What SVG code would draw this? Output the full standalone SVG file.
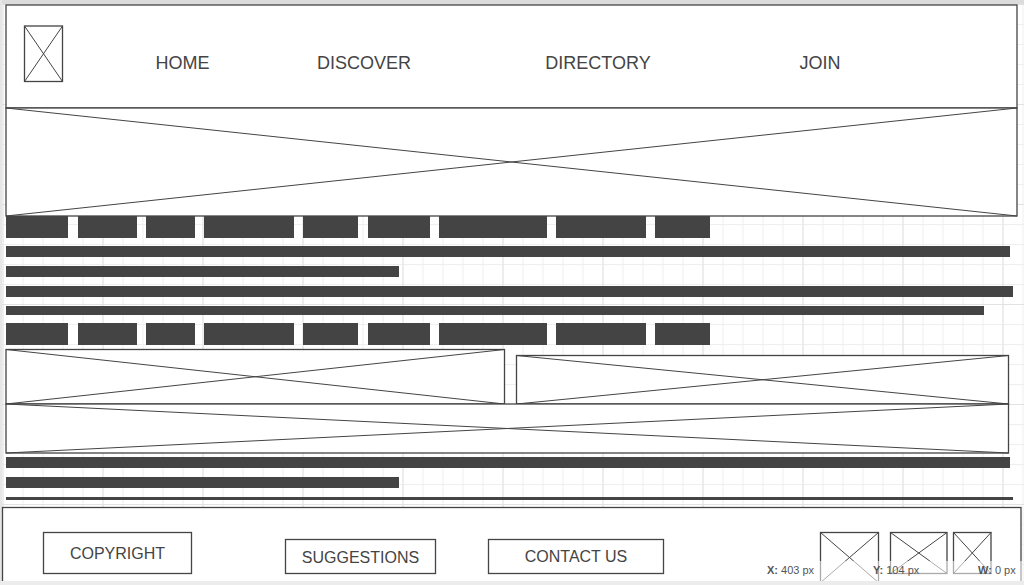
<svg xmlns="http://www.w3.org/2000/svg" width="1024" height="585" viewBox="0 0 1024 585">
<style>
.box{fill:#fff;stroke:#444;stroke-width:1.3}
.xl{stroke:#444;stroke-width:1;fill:none}
.bar{fill:#444}
.nav{font-family:"Liberation Sans",Arial,sans-serif;font-size:18px;fill:#444;text-anchor:middle}
.ft{font-family:"Liberation Sans",Arial,sans-serif;font-size:16px;fill:#444;text-anchor:middle}
.tip{font-family:"Liberation Sans",Arial,sans-serif;font-size:11px;fill:#555}
</style>
<defs>
<pattern id="minor" x="2.5" y="4" width="20" height="20" patternUnits="userSpaceOnUse">
<path d="M0 0.5H20M0.5 0V20" stroke="#efefef" stroke-width="1" fill="none"/>
</pattern>
<pattern id="major" x="2.5" y="4" width="100" height="100" patternUnits="userSpaceOnUse">
<path d="M0 0.5H100M0.5 0V100" stroke="#e2e2e2" stroke-width="1" fill="none"/>
</pattern>
</defs>
<rect x="0" y="0" width="1024" height="585" fill="#fff"/>
<rect x="2" y="4" width="1022" height="577" fill="url(#minor)"/>
<rect x="2" y="4" width="1022" height="577" fill="url(#major)"/>
<rect x="0" y="0" width="1024" height="4" fill="#dcdcdc"/>
<rect x="0" y="0" width="2" height="585" fill="#e6e6e6"/>

<g id="header">
<rect class="box" x="6" y="5" width="1011" height="103"/>
</g>
<g id="logo">
<rect class="box" x="24.5" y="26" width="38" height="55.5"/>
<path class="xl" d="M24.5 26L62.5 81.5M62.5 26L24.5 81.5"/>
</g>
<g id="nav-home"><text class="nav" x="182.5" y="69">HOME</text></g>
<g id="nav-discover"><text class="nav" x="364" y="69">DISCOVER</text></g>
<g id="nav-directory"><text class="nav" x="598" y="69">DIRECTORY</text></g>
<g id="nav-join"><text class="nav" x="820" y="69">JOIN</text></g>

<g id="hero">
<rect class="box" x="6" y="108" width="1011" height="108"/>
<path class="xl" d="M6 108L1017 216M6 216L1017 108"/>
</g>

<g id="tabs-1">
<rect class="bar" x="6" y="216" width="62" height="22"/>
<rect class="bar" x="78" y="216" width="59" height="22"/>
<rect class="bar" x="146" y="216" width="49" height="22"/>
<rect class="bar" x="204" y="216" width="90" height="22"/>
<rect class="bar" x="303" y="216" width="55" height="22"/>
<rect class="bar" x="368" y="216" width="62" height="22"/>
<rect class="bar" x="439" y="216" width="108" height="22"/>
<rect class="bar" x="556" y="216" width="90" height="22"/>
<rect class="bar" x="655" y="216" width="55" height="22"/>
</g>

<g id="text-lines-1">
<rect class="bar" x="6" y="246" width="1004" height="11"/>
<rect class="bar" x="6" y="266" width="393" height="11"/>
<rect class="bar" x="6" y="286" width="1007" height="11"/>
<rect class="bar" x="6" y="306" width="978" height="9"/>
</g>

<g id="tabs-2">
<rect class="bar" x="6" y="323" width="62" height="22"/>
<rect class="bar" x="78" y="323" width="59" height="22"/>
<rect class="bar" x="146" y="323" width="49" height="22"/>
<rect class="bar" x="204" y="323" width="90" height="22"/>
<rect class="bar" x="303" y="323" width="55" height="22"/>
<rect class="bar" x="368" y="323" width="62" height="22"/>
<rect class="bar" x="439" y="323" width="108" height="22"/>
<rect class="bar" x="556" y="323" width="90" height="22"/>
<rect class="bar" x="655" y="323" width="55" height="22"/>
</g>

<g id="image-left">
<rect class="box" x="6" y="349.5" width="498.5" height="54.5"/>
<path class="xl" d="M6 349.5L504.5 404M6 404L504.5 349.5"/>
</g>
<g id="image-right">
<rect class="box" x="516.5" y="355.5" width="492" height="48.5"/>
<path class="xl" d="M516.5 355.5L1008.5 404M516.5 404L1008.5 355.5"/>
</g>
<g id="image-wide">
<rect class="box" x="6" y="404" width="1002.5" height="49"/>
<path class="xl" d="M6 404L1008.5 453M6 453L1008.5 404"/>
</g>

<g id="text-lines-2">
<rect class="bar" x="6" y="457" width="1004" height="11"/>
<rect class="bar" x="6" y="477" width="393" height="11"/>
<rect class="bar" x="6" y="497" width="1007" height="3"/>
</g>

<g id="footer">
<rect class="box" x="2.5" y="507.5" width="1018.5" height="90"/>
</g>
<g id="btn-copyright">
<rect class="box" x="43.5" y="532.5" width="148" height="41"/>
<text class="ft" x="117.5" y="558.5">COPYRIGHT</text>
</g>
<g id="btn-suggestions">
<rect class="box" x="285.5" y="539.5" width="150" height="34"/>
<text class="ft" x="360.5" y="562.5">SUGGESTIONS</text>
</g>
<g id="btn-contact">
<rect class="box" x="488.5" y="539.5" width="175" height="34"/>
<text class="ft" x="576" y="562">CONTACT US</text>
</g>
<g id="social-1">
<rect class="box" x="820.5" y="532.5" width="58" height="50"/>
<path class="xl" d="M820.5 532.5L878.5 582.5M878.5 532.5L820.5 582.5"/>
</g>
<g id="social-2">
<rect class="box" x="890.5" y="532.5" width="56.5" height="41"/>
<path class="xl" d="M890.5 532.5L947 573.5M947 532.5L890.5 573.5"/>
</g>
<g id="social-3">
<rect class="box" x="953.5" y="532.5" width="37.5" height="41"/>
<path class="xl" d="M953.5 532.5L991 573.5M991 532.5L953.5 573.5"/>
</g>

<g id="tooltip">
<rect x="760" y="561" width="262" height="20" fill="#fff" fill-opacity="0.55"/>
<text class="tip" x="767" y="574"><tspan font-weight="bold">X:</tspan> 403 px</text>
<text class="tip" x="873" y="574"><tspan font-weight="bold">Y:</tspan> 104 px</text>
<text class="tip" x="978" y="574"><tspan font-weight="bold">W:</tspan> 0 px</text>
</g>
<rect x="0" y="581" width="1024" height="4" fill="#ececec"/>
</svg>
